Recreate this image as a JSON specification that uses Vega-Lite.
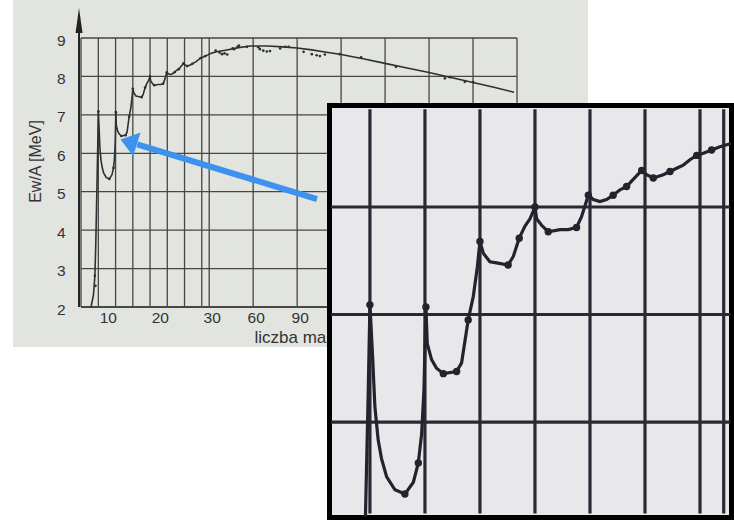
{
  "$schema": "https://vega.github.io/schema/vega-lite/v6.json",
  "width": 575,
  "height": 347,
  "autosize": {"type": "none"},
  "padding": {"left": 13, "top": 0, "right": 146, "bottom": 173},
  "background": "#ffffff",
  "view": {"fill": "#e2e4e0", "stroke": null},
  "config": {"font": "Liberation Sans"},
  "datasets": {
    "curve": [
      {"A": 7.23, "E": 2.0}, {"A": 7.7, "E": 2.3}, {"A": 7.98, "E": 2.8}, {"A": 8.15, "E": 3.6},
      {"A": 8.3, "E": 4.6}, {"A": 8.38, "E": 5.12}, {"A": 8.42, "E": 5.4}, {"A": 8.55, "E": 6.3},
      {"A": 8.65, "E": 7.09}, {"A": 8.81, "E": 6.61}, {"A": 8.95, "E": 6.14}, {"A": 9.15, "E": 5.83},
      {"A": 9.35, "E": 5.66}, {"A": 9.66, "E": 5.49}, {"A": 10.16, "E": 5.37}, {"A": 10.76, "E": 5.33},
      {"A": 11.27, "E": 5.44}, {"A": 11.57, "E": 5.62}, {"A": 11.77, "E": 5.89}, {"A": 11.91, "E": 6.3},
      {"A": 12.03, "E": 7.07}, {"A": 12.11, "E": 6.73}, {"A": 12.37, "E": 6.58}, {"A": 12.67, "E": 6.5},
      {"A": 13.08, "E": 6.45}, {"A": 13.88, "E": 6.47}, {"A": 14.18, "E": 6.55}, {"A": 14.58, "E": 6.95},
      {"A": 14.89, "E": 7.17}, {"A": 15.13, "E": 7.44}, {"A": 15.29, "E": 7.68}, {"A": 15.49, "E": 7.57},
      {"A": 15.89, "E": 7.49}, {"A": 16.29, "E": 7.48}, {"A": 16.99, "E": 7.46}, {"A": 17.3, "E": 7.54},
      {"A": 17.66, "E": 7.71}, {"A": 18.0, "E": 7.82}, {"A": 18.31, "E": 7.89}, {"A": 18.61, "E": 8.0},
      {"A": 18.71, "E": 7.89}, {"A": 19.01, "E": 7.83}, {"A": 19.41, "E": 7.77}, {"A": 20.12, "E": 7.79},
      {"A": 20.62, "E": 7.79}, {"A": 21.12, "E": 7.81}, {"A": 21.42, "E": 7.91}, {"A": 21.83, "E": 8.11},
      {"A": 22.13, "E": 8.07}, {"A": 22.53, "E": 8.05}, {"A": 22.93, "E": 8.07}, {"A": 23.33, "E": 8.11},
      {"A": 23.74, "E": 8.16}, {"A": 24.14, "E": 8.19}, {"A": 24.44, "E": 8.24}, {"A": 25.05, "E": 8.34},
      {"A": 25.35, "E": 8.3}, {"A": 25.75, "E": 8.27}, {"A": 26.35, "E": 8.3}, {"A": 26.76, "E": 8.33},
      {"A": 27.16, "E": 8.36}, {"A": 27.56, "E": 8.39}, {"A": 27.96, "E": 8.44}, {"A": 28.37, "E": 8.48},
      {"A": 28.77, "E": 8.5}, {"A": 29.27, "E": 8.53}, {"A": 29.77, "E": 8.56}, {"A": 30.45, "E": 8.59},
      {"A": 35, "E": 8.64}, {"A": 42, "E": 8.69}, {"A": 50, "E": 8.75}, {"A": 58, "E": 8.79},
      {"A": 70, "E": 8.79}, {"A": 80, "E": 8.77}, {"A": 90, "E": 8.74}, {"A": 100, "E": 8.69},
      {"A": 110, "E": 8.63}, {"A": 120, "E": 8.57}, {"A": 135, "E": 8.46}, {"A": 150, "E": 8.34},
      {"A": 165, "E": 8.22}, {"A": 180, "E": 8.1}, {"A": 195, "E": 7.97}, {"A": 210, "E": 7.84},
      {"A": 225, "E": 7.71}, {"A": 238, "E": 7.59}
    ],
    "dots": [
      {"A": 7.98, "E": 2.81}, {"A": 8.1, "E": 2.55}, {"A": 8.65, "E": 7.09}, {"A": 10.76, "E": 5.33},
      {"A": 11.57, "E": 5.62}, {"A": 12.03, "E": 7.07}, {"A": 13.08, "E": 6.45}, {"A": 13.88, "E": 6.47},
      {"A": 14.58, "E": 6.95}, {"A": 15.29, "E": 7.68}, {"A": 16.99, "E": 7.46}, {"A": 17.66, "E": 7.71},
      {"A": 18.61, "E": 8.0}, {"A": 19.41, "E": 7.77}, {"A": 21.12, "E": 7.81}, {"A": 21.83, "E": 8.11},
      {"A": 23.33, "E": 8.11}, {"A": 24.14, "E": 8.19}, {"A": 25.05, "E": 8.34}, {"A": 25.75, "E": 8.27},
      {"A": 26.76, "E": 8.33}, {"A": 28.37, "E": 8.48}, {"A": 29.27, "E": 8.53},
      {"A": 34.4, "E": 8.67}, {"A": 37.2, "E": 8.62}, {"A": 38.8, "E": 8.58}, {"A": 40.5, "E": 8.6},
      {"A": 42.3, "E": 8.57}, {"A": 46.0, "E": 8.73}, {"A": 47.0, "E": 8.71}, {"A": 49.3, "E": 8.77},
      {"A": 50.3, "E": 8.8}, {"A": 55.7, "E": 8.77}, {"A": 63.5, "E": 8.76}, {"A": 64.6, "E": 8.71},
      {"A": 66.9, "E": 8.67}, {"A": 69.3, "E": 8.65}, {"A": 71.5, "E": 8.66}, {"A": 78.4, "E": 8.73},
      {"A": 81.9, "E": 8.77}, {"A": 84.2, "E": 8.77}, {"A": 94.4, "E": 8.64}, {"A": 100, "E": 8.58},
      {"A": 103.3, "E": 8.55}, {"A": 105.5, "E": 8.53}, {"A": 108.9, "E": 8.57}, {"A": 119, "E": 8.58},
      {"A": 133.6, "E": 8.5}, {"A": 157.4, "E": 8.25}, {"A": 190.8, "E": 7.95}, {"A": 194.2, "E": 7.98},
      {"A": 204.4, "E": 7.86}, {"A": 210.1, "E": 7.85}
    ],
    "vgrid": [
      {"A": 5.31}, {"A": 8.65}, {"A": 11.97}, {"A": 15.29}, {"A": 18.61}, {"A": 21.93}, {"A": 25.25},
      {"A": 28.57}, {"A": 30}, {"A": 60}, {"A": 90}, {"A": 120}, {"A": 150}, {"A": 180}, {"A": 210}, {"A": 240}
    ],
    "hgrid": [
      {"E": 2}, {"E": 3}, {"E": 4}, {"E": 5}, {"E": 6}, {"E": 7}, {"E": 8}, {"E": 9}
    ]
  },
  "layer": [
    {
      "resolve": {"axis": {"x": "independent", "y": "independent"}},
      "layer": [
        {
          "data": {"name": "vgrid"},
          "mark": {"type": "rule", "color": "#464646", "strokeWidth": 1.3},
          "encoding": {
            "x": {"field": "A", "type": "quantitative", "axis": null,
                  "scale": {"type": "linear", "domain": [5.31, 30, 240], "range": [68, 196.2, 504], "zero": false, "nice": false}},
            "y": {"datum": 2, "type": "quantitative", "axis": null,
                  "scale": {"type": "linear", "domain": [2, 9], "range": [307, 38], "zero": false, "nice": false}},
            "y2": {"datum": 9}
          }
        },
        {
          "data": {"name": "hgrid"},
          "mark": {"type": "rule", "color": "#464646"},
          "encoding": {
            "y": {"field": "E", "type": "quantitative", "axis": null},
            "x": {"datum": 5.31, "type": "quantitative", "axis": null},
            "x2": {"datum": 240},
            "strokeWidth": {"condition": {"test": "datum.E == 2", "value": 2.2}, "value": 1.3}
          }
        },
        {
          "data": {"values": [{}]},
          "mark": {"type": "rule", "color": "#222222", "strokeWidth": 2},
          "encoding": {
            "x": {"datum": 4.93, "type": "quantitative", "axis": null},
            "y": {"datum": 2, "type": "quantitative", "axis": null},
            "y2": {"datum": 9.3}
          }
        },
        {
          "data": {"values": [{}]},
          "mark": {"type": "point", "shape": "M0,-1L-0.28,1L0.28,1Z", "filled": true, "color": "#222222", "size": 625, "opacity": 1},
          "encoding": {
            "x": {"datum": 4.93, "type": "quantitative", "axis": null},
            "y": {"datum": 9.455, "type": "quantitative", "axis": null}
          }
        },
        {
          "data": {"name": "curve"},
          "mark": {"type": "line", "color": "#2f2f33", "strokeWidth": 1.6},
          "encoding": {
            "x": {"field": "A", "type": "quantitative",
                  "axis": {"values": [10, 20, 30, 60, 90, 120, 150, 180, 210, 240], "orient": "bottom", "offset": -40,
                           "domain": false, "ticks": false, "grid": false, "labelPadding": 3, "labelOffset": 2.5,
                           "labelFontSize": 15.5, "labelColor": "#333333", "labelFlush": false, "labelOverlap": false,
                           "title": "liczba masowa A", "titleFontSize": 17, "titleFontWeight": "normal", "titleColor": "#333333",
                           "titleX": 241, "titleY": 30, "titleAlign": "left", "titleAnchor": "start", "titleBaseline": "middle"}},
            "y": {"field": "E", "type": "quantitative",
                  "axis": {"values": [2, 3, 4, 5, 6, 7, 8, 9], "orient": "left", "offset": -68,
                           "domain": false, "ticks": false, "grid": false, "labelPadding": 16, "labelOffset": 2,
                           "labelFontSize": 15.5, "labelColor": "#333333",
                           "title": "Ew/A [MeV]", "titleFontSize": 16, "titleFontWeight": "normal", "titleColor": "#333333",
                           "titleX": -46, "titleY": 161, "titleAngle": 270, "titleAlign": "center", "titleBaseline": "middle"}}
          }
        },
        {
          "data": {"name": "dots"},
          "mark": {"type": "point", "filled": true, "color": "#2f2f33", "size": 7, "opacity": 1},
          "encoding": {
            "x": {"field": "A", "type": "quantitative", "axis": null},
            "y": {"field": "E", "type": "quantitative", "axis": null}
          }
        },
        {
          "data": {"values": [{}]},
          "mark": {"type": "rule", "color": "#3d92f0", "strokeWidth": 6},
          "encoding": {
            "x": {"datum": 103.55, "type": "quantitative", "axis": null},
            "y": {"datum": 4.81, "type": "quantitative", "axis": null},
            "x2": {"datum": 16.14},
            "y2": {"datum": 6.23}
          }
        },
        {
          "data": {"values": [{}]},
          "mark": {"type": "point", "shape": "M0,-0.68L-1,0.68L1,0.68Z", "filled": true, "color": "#3d92f0", "size": 625, "angle": 286.9, "opacity": 1},
          "encoding": {
            "x": {"datum": 14.5, "type": "quantitative", "axis": null},
            "y": {"datum": 6.296, "type": "quantitative", "axis": null}
          }
        }
      ]
    },
    {
      "layer": [
        {
          "data": {"values": [{}]},
          "mark": {"type": "rect", "fill": "#e8e8ea", "stroke": "#000000", "strokeWidth": 5},
          "encoding": {
            "x": {"datum": 6.21, "type": "quantitative", "axis": null,
                  "scale": {"type": "linear", "domain": [6.21, 30.47], "range": [316.5, 718.5], "zero": false, "nice": false}},
            "x2": {"datum": 30.47},
            "y": {"datum": 5.112, "type": "quantitative", "axis": null,
                  "scale": {"type": "linear", "domain": [5.112, 8.944], "range": [517.5, 105.5], "zero": false, "nice": false}},
            "y2": {"datum": 8.944}
          }
        },
        {
          "data": {"name": "vgrid"},
          "transform": [{"filter": "datum.A > 6.3 && datum.A < 30.4"}],
          "mark": {"type": "rule", "color": "#2b2833", "strokeWidth": 3.2},
          "encoding": {
            "x": {"field": "A", "type": "quantitative", "axis": null},
            "y": {"datum": 5.15, "type": "quantitative", "axis": null},
            "y2": {"datum": 8.91}
          }
        },
        {
          "data": {"name": "hgrid"},
          "transform": [{"filter": "datum.E > 5.2 && datum.E < 8.9"}],
          "mark": {"type": "rule", "color": "#2b2833", "strokeWidth": 3.2},
          "encoding": {
            "y": {"field": "E", "type": "quantitative", "axis": null},
            "x": {"datum": 6.3, "type": "quantitative", "axis": null},
            "x2": {"datum": 30.4}
          }
        },
        {
          "data": {"name": "curve"},
          "transform": [{"filter": "datum.A >= 6.21 && datum.A <= 30.47 && datum.E >= 5.112"}],
          "mark": {"type": "line", "color": "#25222e", "strokeWidth": 3.2},
          "encoding": {
            "x": {"field": "A", "type": "quantitative", "axis": null},
            "y": {"field": "E", "type": "quantitative", "axis": null}
          }
        },
        {
          "data": {"name": "dots"},
          "transform": [{"filter": "datum.A >= 6.21 && datum.A <= 30.47 && datum.E >= 5.112"}],
          "mark": {"type": "point", "filled": true, "color": "#25222e", "size": 55, "opacity": 1},
          "encoding": {
            "x": {"field": "A", "type": "quantitative", "axis": null},
            "y": {"field": "E", "type": "quantitative", "axis": null}
          }
        }
      ]
    }
  ],
  "resolve": {"scale": {"x": "independent", "y": "independent"}}
}
